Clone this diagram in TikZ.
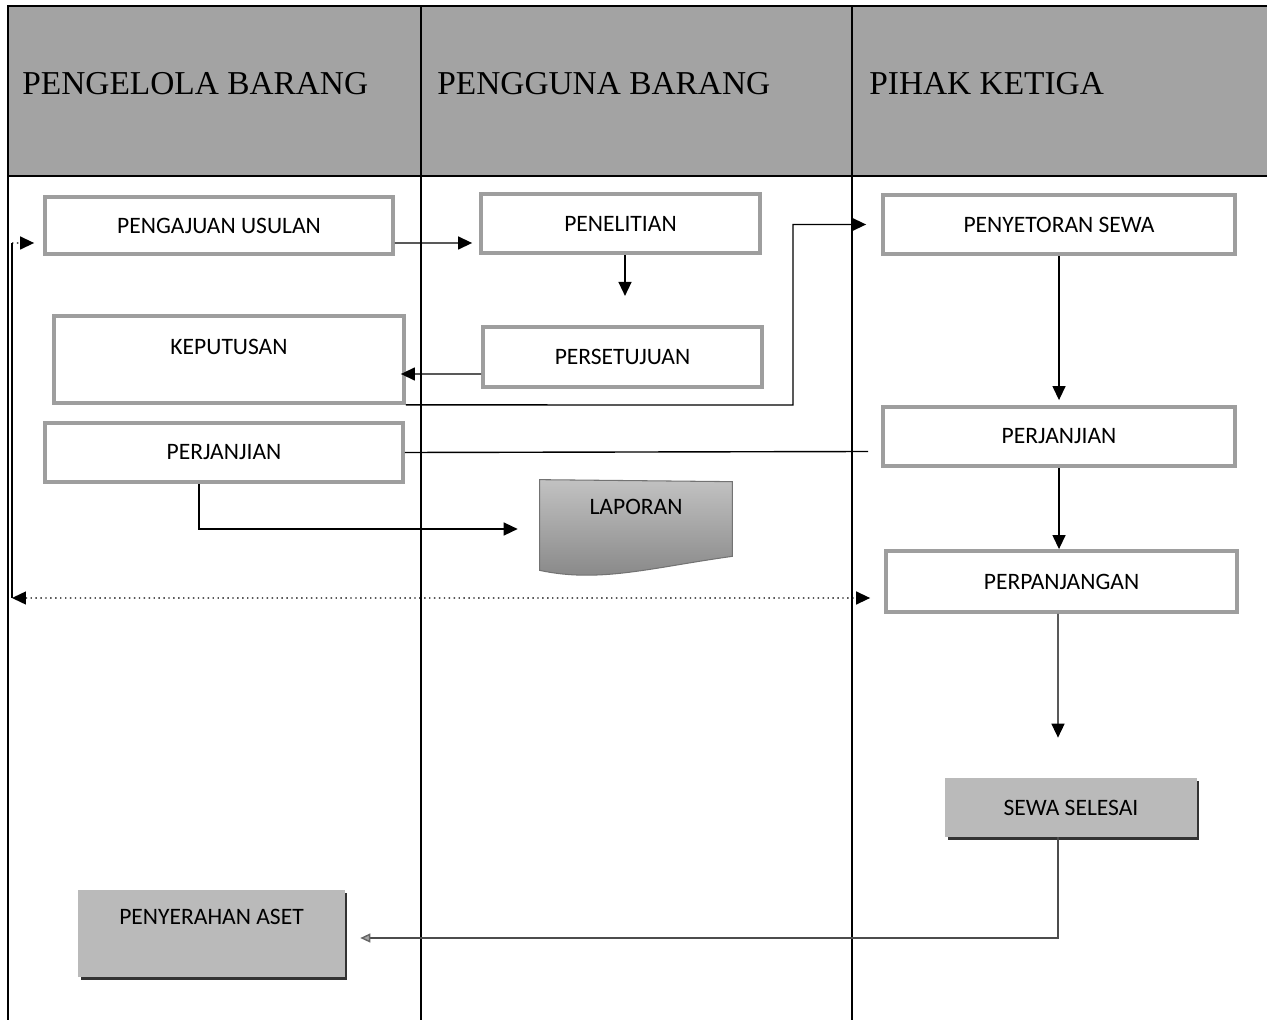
\documentclass[tikz,border=0pt]{standalone}
\usepackage{fontspec}
\setmainfont{Liberation Serif}
\newfontfamily\boxfont{Carlito}
\usetikzlibrary{arrows.meta,shadows,calc}

\begin{document}
\begin{tikzpicture}[x=0.02cm,y=-0.02cm,
  lane/.style={line width=0.75pt},
  hdr/.style={font=\fontsize{19}{22}\selectfont, inner sep=0pt, anchor=west},
  stepfont/.style={font=\boxfont\fontsize{13.4}{16}\selectfont, inner sep=0pt},
  stepbox/.style={stepfont, draw=black!38, line width=2.2pt, fill=white},
  solidbox/.style={stepfont, fill=black!27,
    drop shadow={shadow xshift=0.05cm, shadow yshift=-0.05cm, fill=black!80, opacity=1}},
  ln/.style={line width=0.8pt},
  arr/.style={ln, -{Triangle[length=0.28cm,width=0.26cm]}},
  grayarr/.style={ln, black!70, -{Triangle[length=0.2cm,width=0.18cm,color=black!60,fill=black!35]}},
]
\useasboundingbox (0,0) rectangle (1267,1020);

% lane header band
\fill[black!36] (7,6) rectangle (1267,176);
\draw[lane] (7,6) -- (1267,6);
\draw[lane] (7,176) -- (1267,176);

% lane separators
\draw[lane] (8,6) -- (8,1020);
\draw[lane] (421,6) -- (421,1020);
\draw[lane] (852,6) -- (852,1020);

% lane titles
\node[hdr] (h1) at (22,84) {PENGELOLA BARANG};
\node[hdr] (h2) at (437,84) {PENGGUNA BARANG};
\node[hdr] (h3) at (869,84) {PIHAK KETIGA};

% process steps
\node[stepbox, minimum width=6.96cm, minimum height=1.14cm] (pu) at (219,225.5) {PENGAJUAN USULAN};
\node[stepbox, minimum width=5.58cm, minimum height=1.18cm] (pen) at (620.5,223.5) {PENELITIAN};
\node[stepbox, minimum width=5.58cm, minimum height=1.2cm] (pst) at (622.5,357) {PERSETUJUAN};
\node[stepbox, minimum width=7cm, minimum height=1.74cm,
  label={[name=kepT, stepfont, yshift=0.25cm]center:KEPUTUSAN}] (kep) at (229,359.5) {};
\node[stepbox, minimum width=7.16cm, minimum height=1.18cm] (pjL) at (224,452.5) {PERJANJIAN};
\node[stepbox, minimum width=7.04cm, minimum height=1.18cm] (pys) at (1059,224.5) {PENYETORAN SEWA};
\node[stepbox, minimum width=7.04cm, minimum height=1.18cm] (pjR) at (1059,436.5) {PERJANJIAN};
\node[stepbox, minimum width=7.02cm, minimum height=1.22cm] (ppj) at (1061.5,581.5) {PERPANJANGAN};

% report (document shape)
\node[minimum width=3.84cm, minimum height=1.96cm, inner sep=0pt] (lap) at (636,529) {};
\path[top color=black!24, bottom color=black!48, draw=black!55, line width=0.6pt]
  (lap.north west) -- ([yshift=-0.04cm]lap.north east) -- ([yshift=0.44cm]lap.south east)
  .. controls ([xshift=-1.6cm,yshift=0.22cm]lap.south east) and ([xshift=1.2cm,yshift=-0.1cm]lap.south west)
  .. ([yshift=0.16cm]lap.south west) -- cycle;
\node[stepfont] (lapT) at ([yshift=0.44cm]lap.center) {LAPORAN};

\node[solidbox, minimum width=5.04cm, minimum height=1.18cm] (ss) at (1071,807.5) {SEWA SELESAI};
\node[solidbox, minimum width=5.34cm, minimum height=1.74cm,
  label={[name=paT, stepfont, yshift=0.33cm]center:PENYERAHAN ASET}] (pa) at (211.5,933.5) {};

% connectors
\draw[arr] ([yshift=-0.35cm]pu.east) -- ([xshift=-0.14cm,yshift=-0.39cm]pen.west);
\draw[arr] ([xshift=0.09cm]pen.south) -- ++(0,41);
\draw[arr] ([yshift=-0.34cm]pst.west) -- ([xshift=-0.1cm,yshift=-0.29cm]kep.east);
\coordinate (k4) at (793,405);
\draw[arr] (kep.south east) -- (k4) |- ([xshift=-0.3cm]pys.west);
\draw[ln] (pjL.east) -- ([xshift=-0.26cm,yshift=-0.3cm]pjR.west);
\draw[arr] (pys.south) -- ([yshift=0.1cm]pjR.north);
\draw[arr] (pjR.south) -- (pjR.south |- ppj.north);
\draw[arr] ([xshift=-0.07cm]ppj.south) -- ([xshift=-0.26cm,yshift=0.8cm]ss.north);
\draw[arr] ([xshift=-0.5cm]pjL.south) |- ([xshift=-0.44cm]lap.west);
\draw[grayarr] ([xshift=-0.26cm]ss.south) |- ([xshift=0.3cm,yshift=-0.09cm]pa.east);

% return path from PERPANJANGAN to PENGAJUAN USULAN
\coordinate (lpb) at (12,598);
\coordinate (lpt) at (12,243);
\draw[ln, dotted, {Triangle[length=0.28cm,width=0.26cm]}-{Triangle[length=0.28cm,width=0.26cm]}]
  (lpb) -- ([xshift=-0.28cm,yshift=-0.33cm]ppj.west);
\draw[ln] (lpb) -- (lpt);
\draw[ln, dotted, -{Triangle[length=0.28cm,width=0.26cm]}] (lpt) -- ([xshift=-0.18cm,yshift=-0.35cm]pu.west);
\end{tikzpicture}
\end{document}
